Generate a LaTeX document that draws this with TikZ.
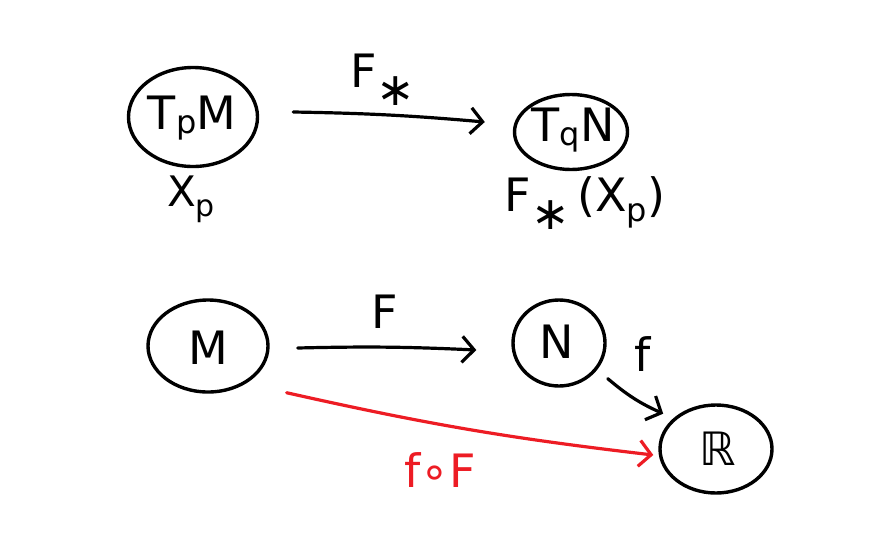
\documentclass[tikz,border=0pt]{standalone}
\usepackage{fontspec}
\setmainfont{DejaVu Sans}
\usetikzlibrary{arrows.meta,shapes.geometric}
\definecolor{pred}{RGB}{237,28,36}
\begin{document}
\begin{tikzpicture}[x=1pt,y=-1pt,
  lbl/.style={font=\fontsize{46}{50}\selectfont, inner sep=0pt},
  blob/.style={draw, ellipse, line width=3.4pt, inner sep=0pt},
  arr/.style={line width=3.2pt, line cap=round, -{Straight Barb[length=12pt,width=26pt,line width=3.2pt]}},
]
\useasboundingbox (0,0) rectangle (874,533);
% top row
\node[blob, minimum width=129pt, minimum height=99pt] (TpM) at (193,117) {};
\node[lbl] (tpmt) at (192,118) {T\raisebox{-4pt}{\fontsize{32}{32}\selectfont p}M};
\node[lbl, font=\fontsize{42}{46}\selectfont] (xp) at (191,199) {X\raisebox{-10pt}{\fontsize{30}{30}\selectfont p}};
\node[blob, minimum width=113pt, minimum height=75pt] (TqN) at (571,132) {};
\node[lbl] (tqnt) at (573,130) {T\raisebox{-4pt}{\fontsize{32}{32}\selectfont q}N};
\node[lbl] (fxp) at (585,203) {F\raisebox{-18pt}{∗}\,(X\raisebox{-10pt}{\fontsize{32}{32}\selectfont p})};
\node[lbl] (fst) at (383,80) {F\raisebox{-18pt}{∗}};
\draw[arr] ([shift={(34,-5)}]TpM.east) to[bend left=2] ([shift={(-28,-10)}]TqN.west);
% bottom row
\node[blob, minimum width=120pt, minimum height=92pt] (M) at (208,346) {};
\node[lbl] (mt) at (208,348) {M};
\node[blob, minimum width=92pt, minimum height=86pt] (N) at (559,343) {};
\node[lbl] (nt) at (557,342) {N};
\node[blob, minimum width=112pt, minimum height=88pt] (R) at (716,449) {};
\node[lbl] (rt) at (718,449) {ℝ};
\node[lbl] (flbl) at (385,312) {F};
\node[lbl] (smallf) at (643,354) {f};
\draw[arr] ([shift={(28,2)}]M.east) to[bend left=2] ([shift={(-35,7)}]N.west);
\draw[arr] ([shift={(15,4)}]N.south east) to[bend right=8] ([shift={(-12,-3)}]R.north west);
\draw[arr, pred] ([shift={(35,13)}]M.south east) to[bend right=3] ([shift={(-5,6)}]R.west);
\node[lbl, text=pred] (fof) at (440,470) {f∘F};
\end{tikzpicture}
\end{document}
